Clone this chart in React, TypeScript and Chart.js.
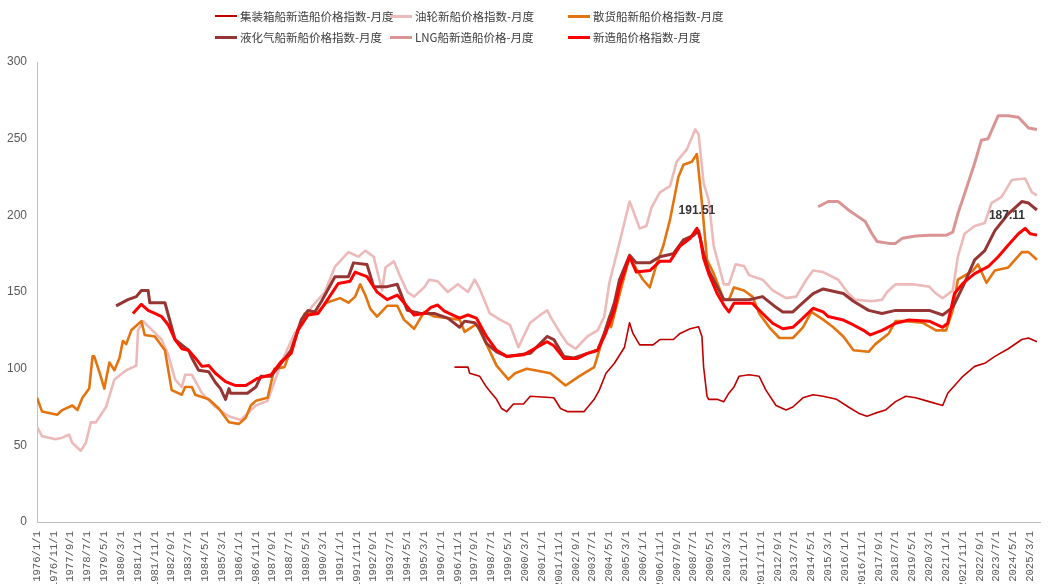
import React, { useEffect, useRef } from "react";
import { Chart, registerables } from "chart.js";

Chart.register(...registerables);

// ---------------- data ----------------
const START_YEAR = 1976;
const TICK_STEP_MONTHS = 10;
const X_MAX_MONTHS = 596;
const Y_MIN = 0;
const Y_MAX = 300;
const Y_STEP = 50;

const containerLabel = "集装箱船新造船价格指数-月度";
const containerDates = ["1996/9","1997/5","1997/6","1997/12","1998/4","1998/7","1998/10","1999/1","1999/4","1999/8","2000/2","2000/6","2001/8","2001/12","2002/4","2003/2","2003/8","2003/11","2004/3","2004/8","2005/2","2005/5","2005/7","2005/11","2006/7","2006/11","2007/7","2007/11","2008/5","2008/10","2008/12","2009/1","2009/3","2009/4","2009/9","2010/1","2010/4","2010/7","2010/10","2011/4","2011/10","2012/2","2012/8","2013/2","2013/6","2013/12","2014/6","2014/12","2015/8","2016/3","2016/9","2017/2","2017/7","2018/1","2018/7","2019/1","2019/7","2020/3","2020/11","2021/2","2021/11","2022/6","2022/12","2023/6","2024/2","2024/10","2025/2","2025/7"];
const containerValues = [101,101,97,95,88,84,80,74,72,77,77,82,81,74,72,72,80,86,97,103.5,114,130,123,115.5,115.5,119,119,123,126,127.4,121,101,82,80,80,78.5,84,88,95,96,95,86,76,73,75,81,83,82,80,75,71,69,71,73,78.5,82,81,78.5,76,84,95,101.5,103.5,108,113,119,120,117.6];

const tankerLabel = "油轮新船价格指数-月度";
const tankerDates = ["1976/1","1976/4","1976/12","1977/4","1977/8","1977/10","1978/3","1978/6","1978/9","1978/12","1979/6","1979/11","1980/6","1980/12","1981/1","1981/4","1982/3","1982/7","1982/11","1983/3","1983/5","1983/9","1984/3","1984/11","1985/7","1986/2","1986/11","1987/6","1988/2","1988/10","1989/8","1990/4","1990/10","1991/6","1991/12","1992/4","1992/9","1993/2","1993/4","1993/9","1993/12","1994/5","1994/9","1995/3","1995/6","1995/11","1996/5","1996/11","1997/5","1997/9","1997/12","1998/6","1998/12","1999/6","1999/11","2000/2","2000/6","2000/12","2001/4","2001/7","2001/12","2002/4","2002/9","2003/4","2003/10","2004/2","2004/5","2004/11","2005/5","2005/7","2005/11","2006/3","2006/6","2006/11","2007/5","2007/9","2008/3","2008/8","2008/10","2009/1","2009/4","2009/7","2010/1","2010/4","2010/8","2011/1","2011/4","2011/12","2012/6","2013/2","2013/8","2014/2","2014/6","2014/12","2015/9","2016/3","2016/7","2017/5","2017/11","2018/2","2018/7","2019/5","2020/3","2020/7","2020/11","2021/5","2021/8","2021/12","2022/6","2022/12","2023/4","2023/10","2024/4","2024/12","2025/4","2025/7"];
const tankerValues = [62,56,54,55,57,51.5,46.5,51.5,65,65,75,93,99,102,125,131,119,109,93,88,96,96,84,75,69,66.5,76,79,103.5,123,140,150,166.5,176,173,177,173,151,166,170,162,150,147,153,158,157,150,155,150,158,152,136,132,128.5,114,121,130,135,138,132,123,116.5,113,121,125,134,156,182,209,203.5,191.5,193,205,215,219,235,243,256,253,221,210,180,155,155,168,167,161,158,151,146,147,158,164,163,158,149,145,144,145,150,155,155,153.5,149,146,151,173,188,193,195,208,212,223,224,215,213];

const bulkLabel = "散货船新船价格指数-月度";
const bulkDates = ["1976/1","1976/4","1977/1","1977/4","1977/10","1978/1","1978/4","1978/8","1978/10","1978/11","1979/2","1979/5","1979/8","1979/11","1980/2","1980/4","1980/6","1980/9","1981/3","1981/5","1981/11","1982/5","1982/9","1983/3","1983/5","1983/9","1983/11","1984/7","1985/1","1985/7","1986/1","1986/5","1986/8","1986/11","1987/6","1987/10","1988/4","1988/10","1989/4","1989/12","1990/5","1991/1","1991/6","1991/10","1992/1","1992/4","1992/7","1992/11","1993/5","1993/11","1994/3","1994/9","1995/3","1995/9","1996/12","1997/3","1997/10","1998/4","1998/10","1999/5","1999/9","2000/4","2001/6","2002/3","2002/11","2003/8","2003/11","2004/5","2004/6","2004/9","2005/5","2005/9","2006/1","2006/5","2006/9","2007/1","2007/5","2007/10","2008/1","2008/6","2008/9","2008/12","2009/3","2009/7","2010/1","2010/4","2010/7","2011/1","2011/6","2011/10","2012/4","2012/10","2013/6","2013/12","2014/5","2014/12","2015/6","2015/12","2016/6","2017/3","2017/7","2018/3","2018/7","2019/1","2019/11","2020/7","2021/1","2021/5","2021/8","2022/5","2022/8","2023/1","2023/6","2024/2","2024/10","2025/2","2025/7"];
const bulkValues = [81,72,70,73,76,73,81,87,108,108,98,87,104,99,107,118,116,125,131,122,121,112,86,83,88,88,83,80,74,65,64,68,76,79,81,100,101,119,136,137,143,146,143,147,155,148,139,134,141,141,132,126,137,134,132,124,129,116,102,93,97,100,97,89,95,101,112,134,127,140,173,165,158,153,168,180,197,225,233,235,240,208,171,162,145,145,153,151,147,136,127,120,120,127,137,132,127,121,112,111,116,123,131,131,130,125,125,138,158,164,168,156,164,166,176,176,171];

const lpgLabel = "液化气船新船价格指数-月度";
const lpgDates = ["1979/12","1980/7","1980/12","1981/3","1981/7","1981/8","1982/5","1982/7","1982/11","1983/3","1983/7","1983/9","1984/1","1984/7","1984/11","1985/2","1985/5","1985/7","1985/8","1986/6","1986/11","1987/2","1987/8","1988/2","1988/8","1989/2","1989/6","1989/10","1990/2","1990/10","1991/6","1991/9","1992/5","1992/9","1993/5","1993/11","1994/5","1995/1","1995/9","1996/5","1996/12","1997/3","1997/9","1997/12","1998/4","1998/10","1999/4","2000/6","2000/12","2001/4","2001/8","2002/2","2002/8","2003/4","2003/10","2004/2","2004/8","2004/11","2005/5","2005/9","2006/5","2006/11","2007/7","2008/1","2008/7","2008/10","2009/1","2009/4","2009/9","2010/1","2011/4","2011/12","2012/8","2012/12","2013/6","2013/12","2014/6","2014/12","2015/12","2016/6","2017/3","2017/11","2018/7","2020/3","2020/11","2021/5","2021/11","2022/6","2022/12","2023/6","2024/2","2024/10","2025/2","2025/7"];
const lpgValues = [141,145,147,151,151,143,143,135,119,115.5,112,107,99,98,91,87,80,87,84,84,88,95,95,103.5,112,132,138,137,144,160,160,169,168,153.5,153.5,155,138,136,136,133,127,131,130,126,116.5,111,108,110,116.5,121,119,108,107,110,112,123,143,158,174,169,169,173,175,184,187,190,175,164,153.5,145,145,147,140,137,137,143,149,152,149,144,138,136,138,138,135,140,153.5,171,177,190,201,209,208,203.5];

const lngLabel = "LNG船新造船价格-月度";
const lngDates = ["2014/9","2015/3","2015/9","2016/3","2016/9","2017/1","2017/5","2017/8","2018/3","2018/7","2018/11","2019/7","2020/3","2021/1","2021/5","2021/8","2021/12","2022/6","2022/10","2023/2","2023/8","2024/2","2024/8","2025/2","2025/7"];
const lngValues = [205.6,209,209,203.5,199,196,188,183,181.7,181.7,185,186.5,187,187,189,201,214,234,249,250,265,265,264,257,256];

const newbuildLabel = "新造船价格指数-月度";
const newbuildDates = ["1980/10","1981/3","1981/7","1981/11","1982/3","1982/7","1982/11","1983/3","1983/7","1983/11","1984/3","1984/7","1984/11","1985/5","1985/11","1986/5","1986/8","1986/12","1987/8","1988/2","1988/8","1988/12","1989/6","1989/12","1990/5","1990/12","1991/7","1991/10","1992/5","1992/11","1993/5","1993/11","1994/3","1994/9","1995/3","1995/7","1995/11","1996/3","1996/12","1997/5","1997/10","1998/4","1998/10","1999/4","2000/2","2000/10","2001/4","2001/8","2002/2","2002/10","2003/4","2003/10","2004/2","2004/8","2004/11","2005/5","2005/9","2006/5","2006/11","2007/5","2007/11","2008/5","2008/9","2008/11","2009/1","2009/4","2009/9","2010/1","2010/4","2010/7","2011/6","2011/12","2012/6","2012/12","2013/6","2013/12","2014/6","2014/12","2015/3","2015/12","2016/6","2016/12","2017/4","2017/11","2018/7","2019/3","2020/3","2020/11","2021/2","2021/6","2021/11","2022/6","2023/2","2023/8","2024/2","2024/8","2024/12","2025/3","2025/7"];
const newbuildValues = [136,142,138,136,134,128.5,119,113,112,107,101.5,102,97,91.5,89,89,91,93.7,96,104.5,110,125,135,136,144,155.6,157,163,160,150,145,148,143,135,136,140,141.5,137.5,133,135,133,121,112,108,109,114,117.6,115,106.7,106.7,110,112,121,138,153.5,173,163,164,170,170,180,185,191.51,185,172,162,149,141.5,137,142.6,142.6,136,129.6,126,127,133,139.4,137,134,131.7,128.5,125,122,125,129.6,131.7,131,127,129.6,149,155.6,162,166.5,173,180.7,188,191.5,188,187.11];

// annotated points: date and value text
const annotationDates = ["2008/9", "2025/7"];
const annotationTexts = ["191.51", "187.11"];

// ---------------- helpers ----------------
const toMonthIndex = (d: string) => {
  const [y, m] = d.split("/").map(Number);
  return (y - START_YEAR) * 12 + (m - 1);
};
const monthLabel = (idx: number) =>
  `${START_YEAR + Math.floor(idx / 12)}/${(idx % 12) + 1}/1`;
const points = (dates: string[], values: number[]) =>
  dates.map((d, i) => ({ x: toMonthIndex(d), y: values[i] }));

const SERIES = [
  { label: containerLabel, dates: containerDates, values: containerValues, color: "#C00000", width: 1.6, legendW: 2, order: 5 },
  { label: tankerLabel, dates: tankerDates, values: tankerValues, color: "#EDBABA", width: 2.6, legendW: 3, order: 4 },
  { label: bulkLabel, dates: bulkDates, values: bulkValues, color: "#E3740F", width: 2.6, legendW: 3, order: 2 },
  { label: lpgLabel, dates: lpgDates, values: lpgValues, color: "#963634", width: 3, legendW: 3, order: 1 },
  { label: lngLabel, dates: lngDates, values: lngValues, color: "#D99594", width: 3, legendW: 3, order: 3 },
  { label: newbuildLabel, dates: newbuildDates, values: newbuildValues, color: "#FF0000", width: 3, legendW: 3, order: 0 },
];

const LEGEND_POS = [
  { left: 215, top: 16 },
  { left: 390, top: 16 },
  { left: 568, top: 16 },
  { left: 215, top: 37 },
  { left: 390, top: 37 },
  { left: 568, top: 37 },
];

const annotationPlugin = {
  id: "valueLabels",
  afterDatasetsDraw(chart: any) {
    const { ctx, scales } = chart;
    const offsets = [
      { dx: 0, dy: -18 },
      { dx: -30, dy: -19 },
    ];
    ctx.save();
    ctx.font = "bold 12px 'Liberation Sans', Arial, sans-serif";
    ctx.fillStyle = "#333333";
    ctx.textAlign = "center";
    ctx.textBaseline = "middle";
    annotationDates.forEach((d, i) => {
      const x = scales.x.getPixelForValue(toMonthIndex(d));
      const y = scales.y.getPixelForValue(parseFloat(annotationTexts[i]));
      ctx.fillText(annotationTexts[i], x + offsets[i].dx, y + offsets[i].dy);
    });
    ctx.restore();
  },
};

export default function App() {
  const canvasRef = useRef<HTMLCanvasElement | null>(null);

  useEffect(() => {
    document.body.style.margin = "0";
    const canvas = canvasRef.current;
    if (!canvas) return;
    const chart = new Chart(canvas, {
      type: "line",
      data: {
        datasets: SERIES.map((s) => ({
          label: s.label,
          data: points(s.dates, s.values),
          borderColor: s.color,
          backgroundColor: s.color,
          borderWidth: s.width,
          pointRadius: 0,
          tension: 0,
          fill: false,
          order: s.order,
          borderJoinStyle: "round" as const,
        })),
      },
      options: {
        responsive: false,
        animation: false,
        layout: { padding: { top: 62, right: 7, left: 0, bottom: 0 } },
        plugins: { legend: { display: false }, tooltip: { enabled: false } },
        scales: {
          x: {
            type: "linear",
            min: 0,
            max: X_MAX_MONTHS,
            grid: { display: false, drawTicks: false },
            border: { display: true, color: "#BFBFBF", width: 1 },
            ticks: {
              stepSize: TICK_STEP_MONTHS,
              includeBounds: false,
              autoSkip: false,
              minRotation: 90,
              maxRotation: 90,
              padding: 9,
              color: "#595959",
              font: { size: 10.6, family: "'Liberation Mono', 'DejaVu Sans Mono', monospace" },
              callback: (v: any) => monthLabel(Number(v)),
            },
            afterFit: (s: any) => {
              s.height = 62;
            },
          },
          y: {
            min: Y_MIN,
            max: Y_MAX,
            grid: { display: false, drawTicks: false },
            border: { display: true, color: "#BFBFBF", width: 1 },
            ticks: {
              stepSize: Y_STEP,
              padding: 10,
              color: "#595959",
              font: { size: 12, family: "'Liberation Sans', Arial, sans-serif" },
            },
            afterFit: (s: any) => {
              s.width = 37;
            },
          },
        },
      },
      plugins: [annotationPlugin],
    });
    return () => chart.destroy();
  }, []);

  return (
    <div style={{ position: "relative", width: 1052, height: 584, background: "#fff", overflow: "hidden" }}>
      <canvas ref={canvasRef} width={1052} height={584} style={{ position: "absolute", left: 0, top: 0 }} />
      {SERIES.map((s, i) => {
        const p = LEGEND_POS[i];
        return (
          <div
            key={s.label}
            style={{
              position: "absolute",
              left: p.left,
              top: p.top - 8,
              height: 16,
              display: "flex",
              alignItems: "center",
              fontFamily: "'Noto Sans CJK SC', sans-serif",
              fontSize: 11.5,
              color: "#404040",
              whiteSpace: "nowrap",
            }}
          >
            <span style={{ display: "inline-block", width: 22, height: s.legendW, background: s.color, marginRight: 3 }} />
            <span>{s.label}</span>
          </div>
        );
      })}
    </div>
  );
}
